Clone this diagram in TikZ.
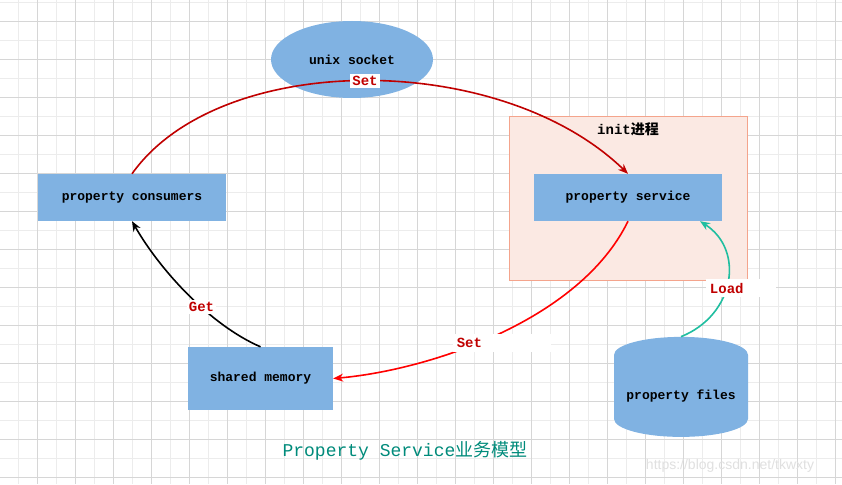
\documentclass[tikz,border=0pt]{standalone}
\usepackage{fontspec}
\usetikzlibrary{arrows.meta,shapes.geometric}
\newfontfamily\boxfont{Liberation Mono}
\newfontfamily\cjkfont{Noto Sans CJK SC}
\newfontfamily\markfont{Liberation Sans}
\definecolor{boxblue}{RGB}{128,178,226}
\definecolor{initfill}{RGB}{251,233,227}
\definecolor{initdraw}{RGB}{244,164,140}
\definecolor{setdark}{RGB}{192,0,0}
\definecolor{setbright}{RGB}{255,0,0}
\definecolor{loadteal}{RGB}{32,190,160}
\definecolor{titleteal}{RGB}{0,139,123}
\definecolor{gridlight}{RGB}{236,236,236}
\definecolor{griddark}{RGB}{214,214,214}
\tikzset{
  pbox/.style ={rectangle, fill=boxblue, inner sep=0pt,
                font=\boxfont\bfseries\fontsize{13}{15}\selectfont},
  psock/.style={ellipse, fill=boxblue, inner sep=0pt,
                font=\boxfont\bfseries\fontsize{13}{15}\selectfont},
  pfile/.style={cylinder, shape border rotate=90, aspect=0.33, fill=boxblue,
                inner sep=0pt, font=\boxfont\bfseries\fontsize{13}{15}\selectfont},
  pinit/.style={rectangle, fill=initfill, draw=initdraw, line width=0.8pt},
  plabel/.style={fill=white, inner sep=2pt, text=setdark,
                 font=\boxfont\bfseries\fontsize{14}{16}\selectfont},
  pwide/.style={plabel, anchor=west, text width=62pt, align=left, inner sep=4pt},
  gridminor/.style={gridlight, line width=0.9pt},
  gridmajor/.style={griddark, line width=0.9pt},
  parrow/.style={-{Stealth[length=10pt,width=8pt]}, line width=1.6pt},
}
\begin{document}
\begin{tikzpicture}[x=1pt,y=-1pt]
  \useasboundingbox (0,0) rectangle (842,484);
  % grid paper
  \fill[white] (0,0) rectangle (842,484);
  \foreach \gx in {18.3,37.3,...,842} \draw[gridminor] (\gx,0) -- (\gx,484);
  \foreach \gy in {2.7,21.7,...,484} \draw[gridminor] (0,\gy) -- (842,\gy);
  \foreach \gx in {37.3,75.3,...,842} \draw[gridmajor] (\gx,0) -- (\gx,484);
  \foreach \gy in {21.7,59.7,...,484} \draw[gridmajor] (0,\gy) -- (842,\gy);

  % init process
  \node[pinit, minimum width=238pt, minimum height=164pt] (init) at (628,198) {};
  \node[font=\boxfont\bfseries\fontsize{14}{16}\selectfont] (inittitle) at (628,129)
    {init{\cjkfont 进程}};

  % nodes
  \node[psock, minimum width=162pt, minimum height=77pt] (socket) at (352,59.5) {unix socket};
  \node[pbox, minimum width=188pt, minimum height=47pt] (consumers) at (132,197.5) {property consumers};
  \node[pbox, minimum width=188pt, minimum height=47pt] (service) at (628,197.5) {property service};
  \node[pbox, minimum width=145pt, minimum height=63pt] (shared) at (260.5,378.5) {shared memory};
  \node[pfile, minimum width=134pt, minimum height=100pt] (files) at (681,396) {property files};

  % connectors
  \draw[parrow, setdark] (consumers.north) .. controls (220,50) and (500,50) .. (service.north)
    node[plabel, pos=0.5] (setup) {Set};
  \draw[parrow, setbright] (service.south) .. controls (580,320) and (430,370) .. (shared.east)
    node[pwide, pos=0.6, xshift=-13pt, yshift=5pt, text width=90pt] (setdown) {Set};
  \draw[parrow, black] (shared.north) .. controls (210,325) and (160,270) .. (consumers.south)
    node[plabel, pos=0.4] (get) {Get};
  \draw[parrow, loadteal] (files.north) .. controls (735,315) and (745,250) .. ([xshift=72pt]service.south)
    node[pwide, pos=0.45, xshift=-21pt] (load) {Load};

  % caption
  \node[text=titleteal, font=\boxfont\fontsize{18}{20}\selectfont] (caption) at (405,451)
    {Property Service{\cjkfont 业务模型}};
  \node[text=black!12, font=\markfont\fontsize{14}{16}\selectfont] (wmark) at (730,466)
    {https://blog.csdn.net/tkwxty};
\end{tikzpicture}
\end{document}
